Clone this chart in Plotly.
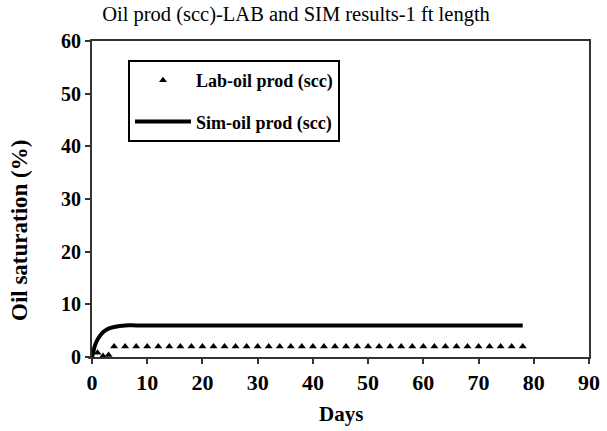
import plotly.graph_objects as go

# Lab measured oil production (scc)
lab_days = [0, 1, 2, 3, 4, 6, 8, 10, 12, 14, 16, 18, 20, 22, 24, 26, 28, 30, 32, 34, 36, 38,
            40, 42, 44, 46, 48, 50, 52, 54, 56, 58, 60, 62, 64, 66, 68, 70, 72, 74, 76, 78]
lab_oil = [0, 0.8, 0.2, 0.4, 2, 2, 2, 2, 2, 2, 2, 2, 2, 2, 2, 2, 2, 2, 2, 2, 2, 2,
           2, 2, 2, 2, 2, 2, 2, 2, 2, 2, 2, 2, 2, 2, 2, 2, 2, 2, 2, 2]

# Simulated oil production (scc)
sim_days = [0, 0.3, 0.6, 1, 1.5, 2, 2.5, 3, 4, 5, 6, 8, 10, 20, 30, 40, 50, 60, 70, 78]
sim_oil = [0, 1.3, 2.4, 3.3, 4.1, 4.7, 5.1, 5.4, 5.7, 5.9, 6.0, 6.0, 6.0, 6.0, 6.0, 6.0, 6.0, 6.0, 6.0, 6.0]

x_ticks = [0, 10, 20, 30, 40, 50, 60, 70, 80, 90]
y_ticks = [0, 10, 20, 30, 40, 50, 60]

FONT = "Liberation Serif, Times New Roman, serif"

fig = go.Figure()
fig.add_trace(go.Scatter(
    x=lab_days, y=lab_oil, mode="markers", name="Lab-oil prod (scc)",
    legendgroup="lab",
    marker=dict(symbol="triangle-up", size=7, color="black"),
    cliponaxis=False,
))
fig.add_trace(go.Scatter(
    x=sim_days, y=sim_oil, mode="lines", name="Sim-oil prod (scc)",
    legendgroup="sim",
    line=dict(color="black", width=4, shape="spline"),
))

fig.update_layout(
    width=607, height=431,
    margin=dict(l=92, r=18, t=41, b=74, autoexpand=False),
    paper_bgcolor="white", plot_bgcolor="white",
    font=dict(family=FONT, color="black"),
    title=dict(text="Oil prod (scc)-LAB and SIM results-1 ft length",
               x=296/607, xanchor="center", xref="container",
               y=1 - 14/431, yanchor="middle", yref="container",
               font=dict(size=20.5, family=FONT, color="black")),
    showlegend=True,
    legend=dict(x=(128-92)/497, xref="paper", y=1 - (60-41)/316, yref="paper",
                xanchor="left", yanchor="top",
                bgcolor="white", bordercolor="black", borderwidth=2,
                font=dict(size=18, family=FONT, color="black", weight="bold"),
                tracegroupgap=15, itemwidth=56),
    xaxis=dict(range=[0, 90], tickvals=x_ticks, ticks="outside", ticklen=5, tickwidth=2,
               tickcolor="#333", showline=True, linewidth=2, linecolor="#333", mirror=True,
               showgrid=False, zeroline=False,
               tickfont=dict(size=22, family=FONT, color="black", weight="bold")),
    yaxis=dict(range=[0, 60], tickvals=y_ticks, ticks="outside", ticklen=5, tickwidth=2,
               tickcolor="#333", showline=True, linewidth=2, linecolor="#333", mirror=True,
               showgrid=False, zeroline=False,
               tickfont=dict(size=20, family=FONT, color="black", weight="bold")),
    annotations=[
        dict(text="Days", xref="paper", yref="paper", x=0.5, y=-(414-357)/316,
             xanchor="center", yanchor="middle", showarrow=False,
             font=dict(size=21, family=FONT, color="black", weight="bold")),
        dict(text="Oil saturation (%)", xref="paper", yref="paper",
             x=(19-92)/497, y=1-(231-41)/316, textangle=-90,
             xanchor="center", yanchor="middle", showarrow=False,
             font=dict(size=23, family=FONT, color="black", weight="bold")),
    ],
)

fig.write_html("out.html")
